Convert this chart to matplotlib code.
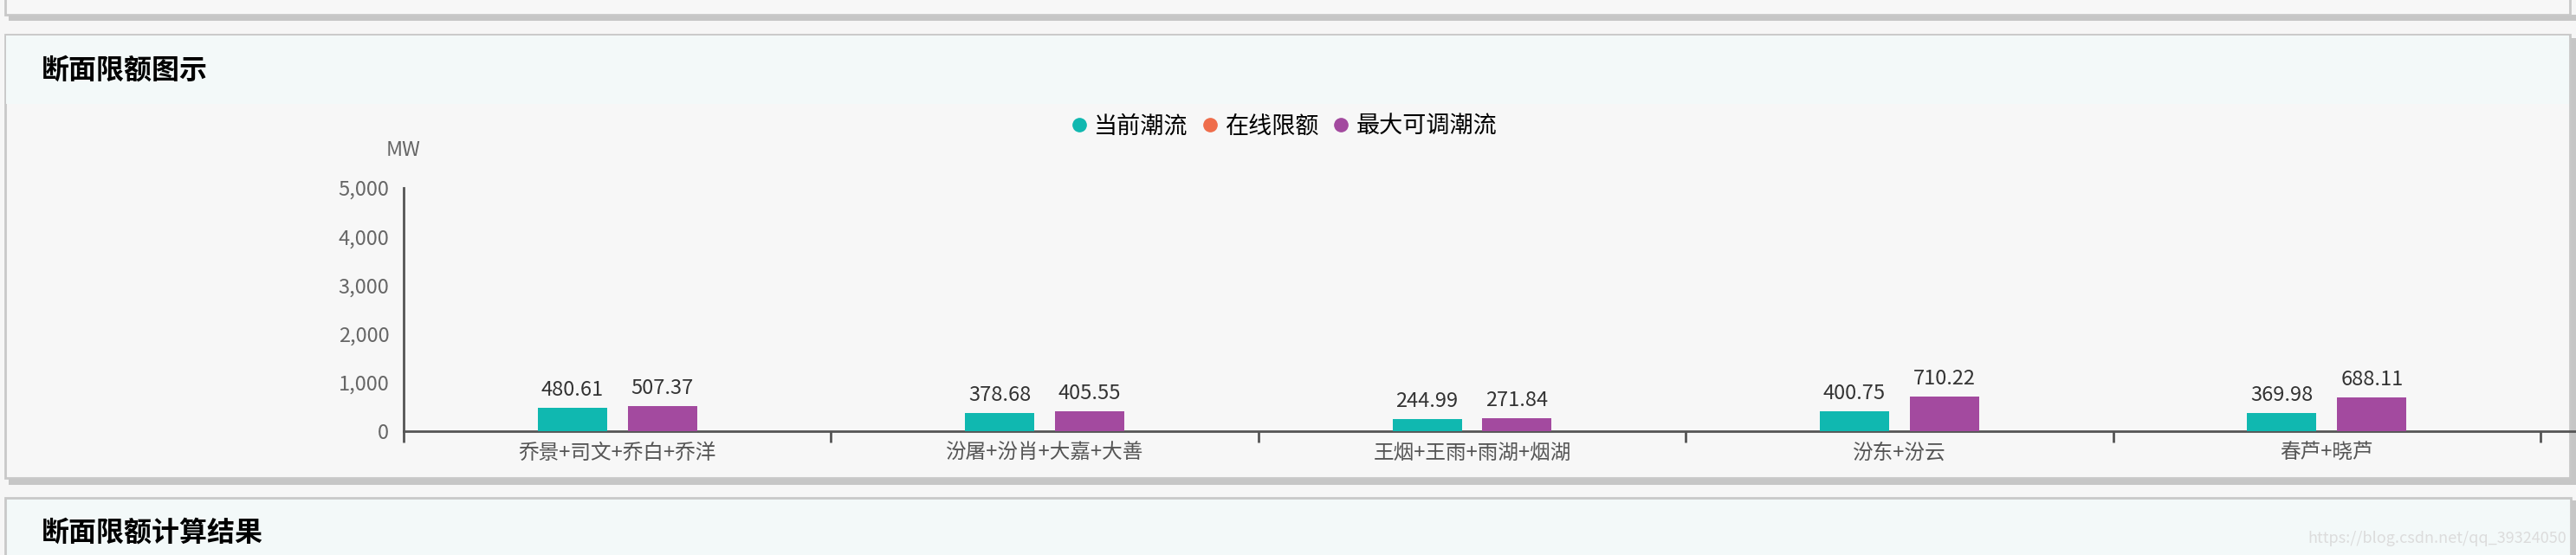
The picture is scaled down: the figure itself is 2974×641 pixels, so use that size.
import matplotlib
matplotlib.use('Agg')
import matplotlib.pyplot as plt
import matplotlib.ticker as mticker
from matplotlib.patches import Rectangle
from matplotlib.lines import Line2D
import numpy as np

plt.rcParams['font.family'] = ['Noto Sans CJK SC', 'DejaVu Sans']

# data
sections = ['乔景+司文+乔白+乔洋', '汾屠+汾肖+大嘉+大善', '王烟+王雨+雨湖+烟湖', '汾东+汾云', '春芦+晓芦']
current_flow = [480.61, 378.68, 244.99, 400.75, 369.98]
max_flow = [507.37, 405.55, 271.84, 710.22, 688.11]
series_names = ['当前潮流', '在线限额', '最大可调潮流']
y_ticks = [0, 1000, 2000, 3000, 4000, 5000]

teal = '#10b8b0'
orange = '#ef6d4b'
purple = '#a34a9f'

W, H = 2974, 641
fig = plt.figure(figsize=(W / 100, H / 100), dpi=100)
fig.patch.set_facecolor('#f6f6f6')


def rect(x0, y0, x1, y1, fc, ec='none', lw=0):
    r = Rectangle((x0 / W, 1 - y1 / H), (x1 - x0) / W, (y1 - y0) / H,
                  transform=fig.transFigure, facecolor=fc, edgecolor=ec,
                  linewidth=lw, zorder=-10)
    fig.add_artist(r)


# top panel (cut off) with its shadow
rect(10, 17, 2974, 24, '#c6c6c6')
rect(6, -5, 2967, 17, '#f7f7f7', '#c8c8c8', 2)
# middle panel
rect(10, 552, 2974, 560, '#c6c6c6')
rect(2967, 44, 2974, 560, '#c6c6c6')
rect(6, 40, 2967, 552, '#f7f7f7', '#c8c8c8', 2)
rect(7, 41, 2966, 120, '#f3f9f9')
# bottom panel
rect(6, 575, 2968, 660, '#f3f9f9', '#c8c8c8', 2)
rect(2968, 578, 2974, 660, '#c6c6c6')

fig.text(48 / W, 1 - 82 / H, '断面限额图示', fontsize=23, fontweight='bold',
         ha='left', va='center', color='#000000')
fig.text(48 / W, 1 - 616 / H, '断面限额计算结果', fontsize=23, fontweight='bold',
         ha='left', va='center', color='#000000')
fig.text(2963 / W, 1 - 622 / H, 'https://blog.csdn.net/qq_39324050', fontsize=13,
         ha='right', va='center', color='#dcdcdc')

# chart axes
ax = fig.add_axes([466 / W, 1 - 498 / H, (2974 - 466) / W, (498 - 217) / H])
ax.set_facecolor('none')

n = len(sections)
ind = np.arange(n)
cat_px = 493.4
width = 80 / cat_px
off = 52 / cat_px

b1 = ax.bar(ind - off, current_flow, width, color=teal, zorder=3)
b2 = ax.bar(ind + off, max_flow, width, color=purple, zorder=3)
for b in (b1, b2):
    ax.bar_label(b, labels=[f'{v:.2f}' for v in b.datavalues], padding=6.5,
                 fontsize=17, color='#333333')

ax.set_xlim(-0.5, -0.5 + (2974 - 466) / cat_px)
ax.set_ylim(0, 5000)
ax.set_yticks(y_ticks)
ax.yaxis.set_major_formatter(mticker.StrMethodFormatter('{x:,.0f}'))
ax.tick_params(axis='y', length=0, pad=12, labelsize=17, labelcolor='#666666')

ax.set_xticks(np.arange(n + 1) - 0.5)
ax.set_xticklabels([])
ax.tick_params(axis='x', which='major', length=9, width=2, color='#555555', direction='out')
ax.xaxis.set_minor_locator(mticker.FixedLocator(ind))
ax.xaxis.set_minor_formatter(mticker.FixedFormatter(sections))
ax.tick_params(axis='x', which='minor', length=0, pad=10, labelsize=17, labelcolor='#555555')

for s in ['top', 'right']:
    ax.spines[s].set_visible(False)
for s in ['left', 'bottom']:
    ax.spines[s].set_color('#555555')
    ax.spines[s].set_linewidth(2)

ax.text(0, 1 + (217 - 173) / (498 - 217), 'MW', transform=ax.transAxes,
        ha='center', va='center', fontsize=17, color='#666666')

# legend
handles = [Line2D([], [], marker='o', linestyle='none', markersize=11,
                  markerfacecolor=c, markeredgecolor=c) for c in (teal, orange, purple)]
fig.legend(handles, series_names, loc='center', bbox_to_anchor=(1483 / W, 1 - 146 / H),
           ncol=3, frameon=False, fontsize=19.5, handlelength=0.6, handletextpad=0.35,
           columnspacing=0.63, borderpad=0, borderaxespad=0)

fig.savefig('out.png', dpi=100, facecolor=fig.get_facecolor())
